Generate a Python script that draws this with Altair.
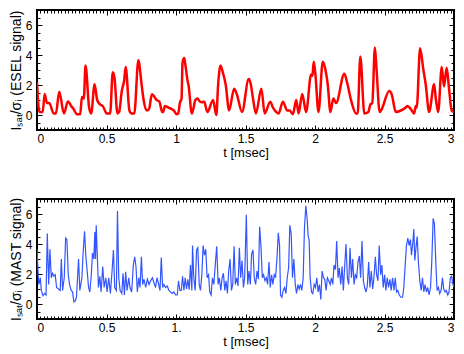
import altair as alt
import pandas as pd

# ---- ESEL (red) signal: time [msec] and I_sat/sigma values
esel_t = [0.000, 0.017, 0.041, 0.055, 0.072, 0.088, 0.120, 0.136, 0.160, 0.194,
          0.222, 0.250, 0.263, 0.287, 0.311, 0.323, 0.337, 0.349, 0.375, 0.390,
          0.414, 0.433, 0.454, 0.473, 0.502, 0.526, 0.545, 0.557, 0.579, 0.591,
          0.610, 0.627, 0.638, 0.665, 0.681, 0.700, 0.729, 0.753, 0.767, 0.791,
          0.806, 0.827, 0.861, 0.880, 0.901, 0.908, 0.920, 0.944, 0.968, 0.985,
          1.004, 1.016, 1.028, 1.040, 1.047, 1.059, 1.068, 1.083, 1.090, 1.114,
          1.140, 1.155, 1.171, 1.188, 1.202, 1.226, 1.267, 1.290, 1.303, 1.320,
          1.338, 1.358, 1.382, 1.418, 1.437, 1.475, 1.523, 1.537, 1.554, 1.575,
          1.614, 1.638, 1.678, 1.697, 1.721, 1.738, 1.769, 1.800, 1.817, 1.841,
          1.865, 1.882, 1.908, 1.936, 1.972, 1.981, 1.991, 2.003, 2.025, 2.056,
          2.068, 2.092, 2.111, 2.132, 2.152, 2.211, 2.230, 2.259, 2.295, 2.307,
          2.326, 2.355, 2.384, 2.398, 2.412, 2.431, 2.443, 2.465, 2.475, 2.534,
          2.551, 2.582, 2.618, 2.653, 2.665, 2.689, 2.713, 2.725, 2.732, 2.756,
          2.780, 2.797, 2.821, 2.857, 2.869, 2.886, 2.912, 2.928, 2.947, 2.964,
          2.983, 3.000]
esel_v = [2.2, 0.2, 0.2, 1.4, 0.8, 0.8, 0.1, 0.1, 1.55, 0.1,
          0.9, 0.55, 0.4, 0.05, 0.05, 1.2, 1.1, 3.3, 0.5, 0.1,
          2.05, 1.0, 0.7, 0.6, 0.1, 0.1, 2.85, 2.5, 0.1, 0.2,
          1.6, 2.3, 3.2, 0.3, 0.1, 0.1, 3.65, 2.0, 1.0, 0.3,
          0.4, 1.38, 1.0, 0.9, 0.2, 0.2, 0.6, 0.5, 0.4, 0.3,
          0.05, 0.1, 0.8, 1.1, 3.5, 3.8, 3.3, 2.3, 2.0, 0.1,
          1.0, 1.1, 0.9, 0.85, 0.9, 0.2, 1.0, 0.0, 2.0, 3.3,
          2.8, 2.0, 0.3, 1.75, 1.4, 0.2, 2.4, 2.1, 1.1, 0.1,
          1.75, 0.1, 0.88, 0.5, 0.2, 0.1, 0.88, 0.3, 0.3, 0.05,
          1.0, 0.1, 1.4, 0.2, 2.7, 2.6, 3.55, 2.7, 0.2, 3.55,
          3.3, 2.0, 0.2, 1.1, 0.8, 2.75, 2.2, 1.0, 0.1, 0.1,
          3.9, 0.1, 0.2, 0.7, 0.8, 4.5, 3.0, 0.2, 0.3, 1.6,
          1.4, 0.2, 0.3, 0.5, 0.6, 0.4, 0.1, 0.6, 0.5, 4.45,
          3.0, 2.0, 0.2, 2.05, 1.1, 0.2, 3.2, 1.9, 3.15, 1.8,
          0.3, 0.2]

# ---- MAST (blue) signal
mast_t = [0.000, 0.012, 0.024, 0.031, 0.043, 0.055, 0.065, 0.074, 0.084, 0.093,
          0.103, 0.112, 0.122, 0.131, 0.141, 0.155, 0.167, 0.175, 0.184, 0.196,
          0.206, 0.215, 0.225, 0.234, 0.246, 0.256, 0.265, 0.275, 0.284, 0.299,
          0.308, 0.323, 0.332, 0.342, 0.351, 0.361, 0.371, 0.380, 0.390, 0.399,
          0.409, 0.416, 0.421, 0.426, 0.433, 0.442, 0.452, 0.461, 0.473, 0.483,
          0.495, 0.504, 0.516, 0.528, 0.540, 0.550, 0.559, 0.571, 0.579, 0.588,
          0.598, 0.610, 0.619, 0.629, 0.638, 0.648, 0.660, 0.669, 0.681, 0.693,
          0.703, 0.712, 0.722, 0.732, 0.741, 0.751, 0.760, 0.770, 0.782, 0.794,
          0.806, 0.818, 0.830, 0.842, 0.853, 0.863, 0.873, 0.885, 0.894, 0.904,
          0.913, 0.925, 0.937, 0.949, 0.961, 0.973, 0.985, 0.997, 1.009, 1.018,
          1.028, 1.038, 1.047, 1.057, 1.066, 1.076, 1.085, 1.095, 1.104, 1.114,
          1.119, 1.128, 1.138, 1.148, 1.157, 1.167, 1.176, 1.186, 1.195, 1.205,
          1.214, 1.224, 1.234, 1.243, 1.253, 1.262, 1.272, 1.284, 1.293, 1.303,
          1.312, 1.322, 1.332, 1.341, 1.351, 1.360, 1.370, 1.379, 1.389, 1.399,
          1.408, 1.418, 1.427, 1.437, 1.446, 1.456, 1.465, 1.475, 1.485, 1.494,
          1.506, 1.516, 1.525, 1.535, 1.544, 1.554, 1.563, 1.573, 1.583, 1.592,
          1.602, 1.611, 1.621, 1.630, 1.640, 1.650, 1.659, 1.669, 1.678, 1.688,
          1.697, 1.707, 1.716, 1.726, 1.736, 1.745, 1.752, 1.762, 1.771, 1.781,
          1.791, 1.800, 1.810, 1.819, 1.829, 1.838, 1.848, 1.858, 1.867, 1.877,
          1.886, 1.896, 1.905, 1.915, 1.924, 1.934, 1.944, 1.951, 1.958, 1.965,
          1.975, 1.984, 1.994, 2.003, 2.013, 2.022, 2.032, 2.042, 2.051, 2.061,
          2.070, 2.080, 2.089, 2.099, 2.109, 2.118, 2.128, 2.137, 2.147, 2.156,
          2.166, 2.175, 2.185, 2.195, 2.204, 2.214, 2.223, 2.233, 2.242, 2.252,
          2.262, 2.271, 2.281, 2.290, 2.300, 2.309, 2.319, 2.328, 2.338, 2.348,
          2.357, 2.367, 2.376, 2.386, 2.395, 2.405, 2.415, 2.424, 2.434, 2.443,
          2.453, 2.462, 2.472, 2.481, 2.491, 2.501, 2.510, 2.520, 2.529, 2.539,
          2.548, 2.558, 2.568, 2.577, 2.587, 2.596, 2.606, 2.618, 2.630, 2.639,
          2.649, 2.658, 2.668, 2.677, 2.687, 2.694, 2.704, 2.711, 2.718, 2.728,
          2.735, 2.744, 2.754, 2.764, 2.773, 2.783, 2.792, 2.802, 2.811, 2.821,
          2.831, 2.840, 2.850, 2.859, 2.869, 2.878, 2.888, 2.897, 2.907, 2.917,
          2.926, 2.936, 2.945, 2.955, 2.964, 2.974, 2.983, 2.993, 3.000]
mast_v = [3.65, 1.3, 1.75, 0.9, 0.55, 0.7, 0.6, 4.7, 1.3, 3.65,
          1.75, 2.05, 1.85, 1.95, 1.1, 1.0, 0.9, 3.0, 0.9, 1.75,
          4.4, 4.3, 1.95, 1.3, 0.9, 0.8, 0.15, 0.2, 0.45, 3.0,
          0.9, 1.75, 3.45, 4.85, 3.25, 2.2, 1.1, 0.8, 1.85, 3.4,
          3.0, 4.8, 3.0, 5.25, 3.45, 1.1, 1.85, 0.8, 2.5, 1.1,
          1.75, 0.8, 1.75, 0.7, 2.2, 3.6, 1.1, 0.9, 6.2, 1.75,
          0.9, 0.7, 2.05, 0.6, 2.15, 0.9, 1.75, 1.1, 0.8, 2.6,
          3.15, 2.5, 0.8, 1.75, 1.1, 3.15, 1.3, 1.65, 1.1, 1.65,
          1.3, 1.55, 1.75, 1.4, 1.1, 1.75, 1.4, 0.9, 3.1, 1.1,
          1.3, 1.1, 1.2, 0.9, 0.8, 0.7, 0.8, 0.6, 0.6, 1.55,
          0.9, 0.9, 1.85, 0.9, 1.75, 1.0, 1.65, 0.95, 2.6, 0.9,
          3.9, 1.75, 0.9, 3.6, 3.75, 1.3, 0.9, 1.95, 3.9, 3.25,
          3.65, 1.75, 1.95, 0.8, 0.6, 1.75, 1.3, 2.8, 3.85, 1.3,
          1.75, 0.9, 1.75, 2.05, 0.9, 1.55, 0.7, 2.2, 3.0, 0.9,
          1.3, 3.85, 1.3, 1.75, 1.2, 3.75, 1.75, 2.9, 1.1, 1.75,
          5.95, 1.3, 2.2, 1.3, 3.35, 3.6, 1.75, 1.3, 2.2, 1.65,
          5.15, 3.9, 1.75, 1.95, 1.55, 1.75, 1.3, 2.8, 1.1, 1.95,
          1.3, 1.95, 1.75, 3.0, 4.75, 3.9, 0.6, 0.45, 0.9, 1.1,
          0.7, 1.75, 2.4, 5.25, 4.65, 1.75, 3.0, 1.3, 0.7, 1.3,
          1.0, 1.3, 0.9, 1.75, 5.05, 6.55, 5.6, 4.5, 4.3, 1.75,
          0.8, 0.7, 1.3, 1.1, 1.75, 0.8, 1.3, 0.3, 2.2, 1.75,
          1.65, 0.9, 1.75, 1.55, 1.3, 1.75, 1.3, 2.6, 2.3, 4.2,
          1.75, 2.4, 1.3, 2.5, 0.9, 2.6, 4.0, 1.75, 1.3, 3.75,
          1.75, 3.0, 1.3, 1.95, 1.75, 2.8, 3.2, 1.75, 4.2, 1.55,
          1.1, 0.8, 1.2, 2.8, 1.1, 2.2, 1.0, 1.75, 3.15, 1.95,
          1.55, 3.9, 1.95, 2.6, 1.1, 1.95, 0.9, 1.75, 1.1, 1.65,
          0.9, 1.75, 0.9, 1.75, 0.8, 0.9, 0.6, 0.45, 0.45, 1.1,
          2.6, 3.9, 4.4, 3.9, 4.3, 3.25, 4.1, 5.0, 2.9, 3.9,
          4.5, 2.8, 1.55, 0.9, 1.75, 0.8, 1.3, 0.8, 1.1, 0.6,
          1.1, 2.8, 5.7, 5.35, 2.8, 0.9, 1.1, 0.7, 0.9, 1.75,
          1.0, 0.8, 0.9, 0.6, 0.8, 1.75, 1.85, 1.3, 1.1]

# ---- axis ticks
x_major = [0, 0.5, 1, 1.5, 2, 2.5, 3]
x_minor = [round(i * 0.025, 3) for i in range(121)]
y_major = [0, 2, 4, 6]
y_minor = [i * 0.5 - 1 for i in range(17)]

W, H = 417, 120
FONT = "Liberation Sans"


def panel(t, v, color, width, ytitle, interp, one_dot):
    df = pd.DataFrame({"t": t, "v": v})
    xs = alt.Scale(domain=[0, 3], nice=False, zero=False)
    ys = alt.Scale(domain=[-1, 7], nice=False, zero=False)
    if one_dot:
        lexpr = "datum.value == 1 ? '1.' : format(datum.value, '~g')"
    else:
        lexpr = "format(datum.value, '~g')"
    base = alt.Chart(df)
    line = base.mark_line(color=color, strokeWidth=width, interpolate=interp, clip=True).encode(
        x=alt.X("t:Q", scale=xs,
                axis=alt.Axis(orient="bottom", values=x_major, labelExpr=lexpr, ticks=False,
                              domain=False, grid=False, title="t [msec]",
                              labelPadding=3, titlePadding=2, minExtent=0)),
        y=alt.Y("v:Q", scale=ys,
                axis=alt.Axis(orient="left", values=y_major, ticks=False, domain=False,
                              grid=False, title=ytitle, labelPadding=5, titlePadding=2,
                              minExtent=0, titleFontSize=14)),
    )

    def tick_layer(xo, yo, xv, yv, size):
        return base.mark_line(opacity=0, clip=True).encode(
            x=alt.X("t:Q", scale=xs,
                    axis=alt.Axis(orient=xo, offset=-H, values=xv, tickSize=size, labels=False,
                                  domain=False, grid=False, title=None, tickColor="black",
                                  tickWidth=1, minExtent=0, maxExtent=0)),
            y=alt.Y("v:Q", scale=ys,
                    axis=alt.Axis(orient=yo, offset=-W, values=yv, tickSize=size, labels=False,
                                  domain=False, grid=False, title=None, tickColor="black",
                                  tickWidth=1, minExtent=0, maxExtent=0)),
        )

    layers = [
        tick_layer("top", "right", x_major, y_major, 5),
        tick_layer("top", "right", x_minor, y_minor, 3),
        tick_layer("bottom", "left", x_major, y_major, 5),
        tick_layer("bottom", "left", x_minor, y_minor, 3),
        line,
    ]
    return alt.layer(*layers).resolve_axis(x="independent", y="independent").properties(
        width=W, height=H)


top = panel(esel_t, esel_v, "#ff0000", 2.5, "Iₛₐₜ/σᵢ (ESEL signal)", "monotone", False)
bottom = panel(mast_t, mast_v, "#3355ff", 1.2, "Iₛₐₜ/σᵢ (MAST signal)", "linear", True)

chart = alt.vconcat(top, bottom, spacing=36, padding=0).configure_view(
    stroke="black", strokeWidth=2
).configure_axis(
    labelFont=FONT, titleFont=FONT, labelColor="black", titleColor="black",
    titleFontWeight="normal", labelFontSize=12, titleFontSize=13
)

chart.save("out.html", embed_options={"renderer": "svg", "actions": False})
